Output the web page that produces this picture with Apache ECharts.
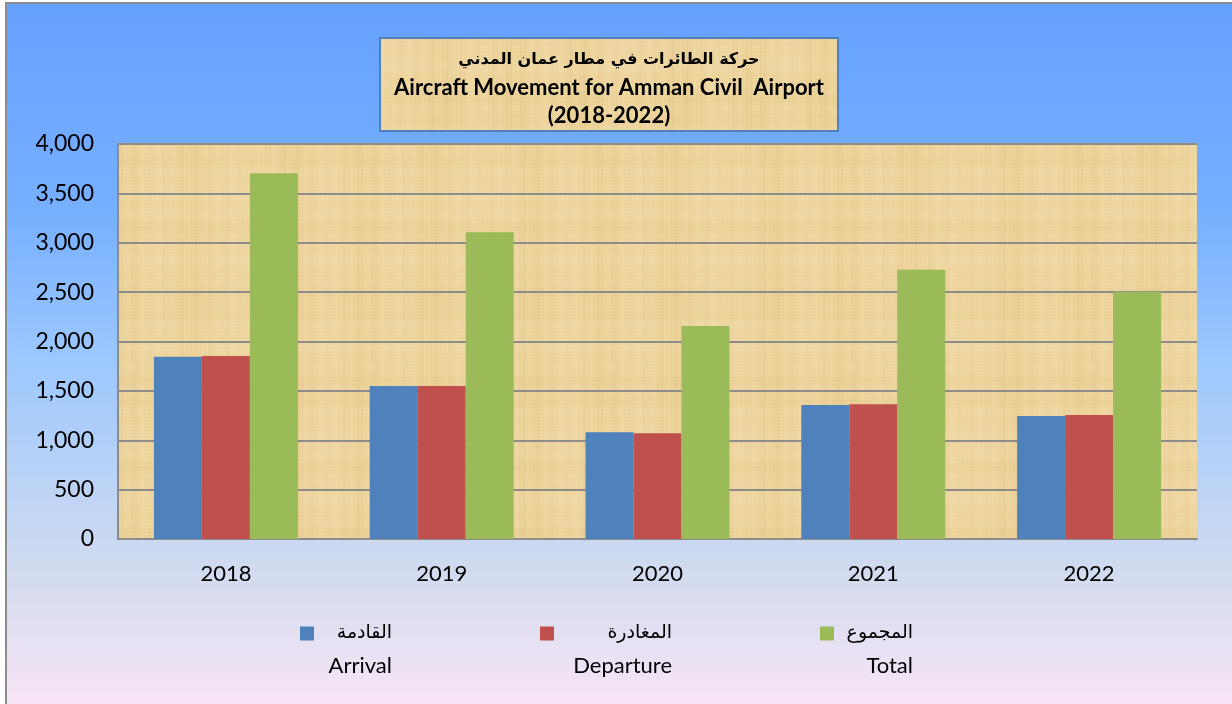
<!DOCTYPE html>
<html>
<head>
<meta charset="utf-8">
<title>Aircraft Movement for Amman Civil Airport</title>
<script src="https://cdn.jsdelivr.net/npm/echarts/dist/echarts.min.js"></script>
<style>
    html, body { margin: 0; padding: 0; background: #fff; }
    #main { width: 1232px; height: 704px; }
</style>
</head>
<body>
<div id="main"></div>
<script>
// data
var years = ['2018', '2019', '2020', '2021', '2022'];
var arrival = [1846, 1549, 1080, 1357, 1246];
var departure = [1853, 1549, 1070, 1364, 1256];
var total = [3703, 3106, 2157, 2727, 2504];
var names = ['القادمة', 'المغادرة', 'المجموع'];
var namesEn = ['Arrival', 'Departure', 'Total'];
var colors = ['#4f81bd', '#c0504d', '#9bbb59'];

var latin = 'Lato, "Open Sans", sans-serif';
var arabic = '"DejaVu Sans", "Noto Sans", sans-serif';

// papyrus like texture, made from fixed sine waves
function papyrus() {
    var c = document.createElement('canvas');
    c.width = 240;
    c.height = 240;
    var g = c.getContext('2d');
    g.fillStyle = '#eed59e';
    g.fillRect(0, 0, 240, 240);
    for (var i = 0; i < 240; i++) {
        var v = Math.sin(i * 0.41) + Math.sin(i * 1.37 + 1) + Math.sin(i * 0.09);
        g.fillStyle = v > 0 ? 'rgba(255,245,215,' + (v * 0.05) + ')' : 'rgba(200,160,80,' + (-v * 0.05) + ')';
        g.fillRect(i, 0, 1, 240);
        var h = Math.sin(i * 0.29 + 2) + Math.sin(i * 1.91) + Math.sin(i * 0.07 + 0.5);
        g.fillStyle = h > 0 ? 'rgba(255,245,215,' + (h * 0.04) + ')' : 'rgba(200,160,80,' + (-h * 0.04) + ')';
        g.fillRect(0, i, 240, 1);
    }
    return { image: c, repeat: 'repeat' };
}

var myChart = echarts.init(document.getElementById('main'));

function legendFor(idx, left, w) {
    return {
        data: [names[idx]],
        left: left,
        top: 624,
        padding: 0,
        itemWidth: 14,
        itemHeight: 14,
        itemGap: 5,
        icon: 'rect',
        selectedMode: false,
        formatter: function () {
            return '{ar|' + names[idx] + '}\n{en|' + namesEn[idx] + '}';
        },
        textStyle: {
            padding: [32, 0, 0, 0],
            rich: {
                ar: { fontFamily: arabic, fontSize: 19, color: '#000', width: w, align: 'right', lineHeight: 32 },
                en: { fontFamily: latin, fontSize: 22, color: '#000', width: w, align: 'right', lineHeight: 32 }
            }
        }
    };
}

var option = {
    backgroundColor: '#fff',
    animation: false,
    color: colors,
    graphic: [{
        type: 'rect',
        z: -100,
        silent: true,
        shape: { x: 6, y: 3, width: 1240, height: 712 },
        style: {
            fill: new echarts.graphic.LinearGradient(0, 0, 0, 1, [
                { offset: 0, color: '#64a0ff' },
                { offset: 0.3, color: '#78b0ff' },
                { offset: 0.5, color: '#9cc8ff' },
                { offset: 0.8, color: '#d2dbef' },
                { offset: 1, color: '#fbe6f6' }
            ]),
            stroke: '#8c8c8c',
            lineWidth: 2
        }
    }],
    title: {
        left: 380,
        top: 32,
        padding: [14, 9, 4, 9],
        backgroundColor: papyrus(),
        borderColor: '#4f81bd',
        borderWidth: 2,
        text: '{ar|حركة الطائرات في مطار عمان المدني}\n{en|Aircraft Movement for Amman Civil  Airport}\n{en|(2018-2022)}',
        textStyle: {
            rich: {
                ar: { fontFamily: arabic, fontWeight: 'bold', fontSize: 16, color: '#000', width: 440, align: 'center', lineHeight: 28 },
                en: { fontFamily: latin, fontWeight: 'bold', fontSize: 22, color: '#000', width: 440, align: 'center', lineHeight: 28 }
            }
        }
    },
    legend: [
        legendFor(0, 300, 73),
        legendFor(1, 540, 113),
        legendFor(2, 820, 74)
    ],
    grid: {
        left: 118,
        right: 35,
        top: 144,
        bottom: 165,
        show: true,
        backgroundColor: papyrus(),
        borderWidth: 0
    },
    xAxis: {
        type: 'category',
        data: years,
        axisTick: { show: false },
        axisLine: { lineStyle: { color: '#8c8c8c', width: 2 } },
        axisLabel: { color: '#000', fontFamily: latin, fontSize: 22, margin: 24 }
    },
    yAxis: {
        type: 'value',
        min: 0,
        max: 4000,
        interval: 500,
        axisLine: { show: true, lineStyle: { color: '#8c8c8c', width: 2 } },
        axisTick: { show: false },
        splitLine: { lineStyle: { color: '#8c8c8c', width: 2 } },
        axisLabel: {
            color: '#000',
            fontFamily: latin,
            fontSize: 23,
            margin: 24,
            formatter: function (v) {
                return v.toLocaleString('en-US');
            }
        }
    },
    series: [
        { name: names[0], type: 'bar', data: arrival, barWidth: 48, barGap: '0%' },
        { name: names[1], type: 'bar', data: departure, barWidth: 48, barGap: '0%' },
        { name: names[2], type: 'bar', data: total, barWidth: 48, barGap: '0%' }
    ]
};

myChart.setOption(option);

window.addEventListener('resize', function () {
    myChart.resize();
});
</script>
</body>
</html>
